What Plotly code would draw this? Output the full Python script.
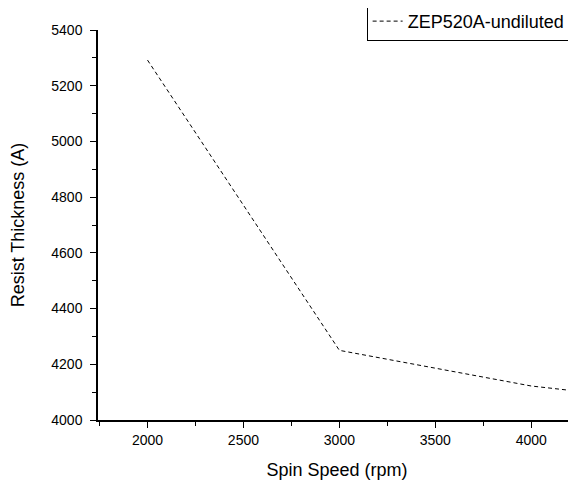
import plotly.graph_objects as go

spin_speed = [2000, 3000, 4000, 5000]
thickness = [5292, 4250, 4122, 4045]
series_name = "ZEP520A-undiluted"
x_ticks = [2000, 2500, 3000, 3500, 4000]
y_ticks = [4000, 4200, 4400, 4600, 4800, 5000, 5200, 5400]

fig = go.Figure()
fig.add_trace(go.Scatter(
    x=spin_speed, y=thickness, mode="lines", name=series_name,
    line=dict(color="black", width=1, dash="4px,3px"),
))

font = "Liberation Sans, Arial, sans-serif"
# page body has an 8px default margin, so the figure is sized to compensate
fig.update_layout(
    width=568, height=473,
    margin=dict(l=90, r=0, t=22, b=61, autoexpand=False),
    paper_bgcolor="white", plot_bgcolor="white",
    font=dict(family=font, color="black", size=14),
    showlegend=True,
    legend=dict(x=0.562, y=1.072, xanchor="left", yanchor="top",
                bordercolor="black", borderwidth=1, bgcolor="white",
                font=dict(size=18, family=font), itemwidth=30,
                tracegroupgap=0),
    xaxis=dict(range=[1742, 4233], tickvals=x_ticks, showgrid=False, zeroline=False,
               showline=True, linecolor="black", linewidth=1.5,
               ticks="outside", ticklen=6, tickwidth=1.2, tickcolor="black",
               minor=dict(dtick=250, tick0=0, ticks="outside", ticklen=4, tickwidth=1.2, tickcolor="black"),
               title=dict(text="Spin Speed (rpm)", font=dict(size=18), standoff=17),
               tickfont=dict(size=14)),
    yaxis=dict(range=[4000, 5400], tickvals=y_ticks, showgrid=False, zeroline=False,
               showline=True, linecolor="black", linewidth=1.5,
               ticks="outside", ticklen=6, tickwidth=1.2, tickcolor="black",
               ticklabelstandoff=5,
               minor=dict(dtick=100, tick0=0, ticks="outside", ticklen=4, tickwidth=1.2, tickcolor="black"),
               title=dict(text="Resist Thickness (A)", font=dict(size=18), standoff=25),
               tickfont=dict(size=14)),
)
fig.write_html("out.html")
